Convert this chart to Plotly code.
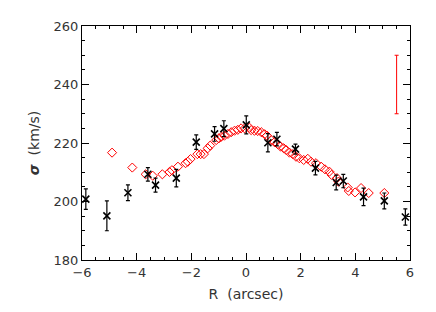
import plotly.graph_objects as go

# Black measurements (x, sigma, error)
black_r = [-5.86, -5.09, -4.32, -3.59, -3.31, -2.55, -1.82, -1.15, -0.81, 0.01,
           0.80, 1.13, 1.81, 2.54, 3.30, 3.56, 4.30, 5.06, 5.83]
black_sigma = [200.8, 195.1, 203.0, 209.3, 205.6, 208.0, 220.3, 223.1, 224.9, 226.2,
               220.1, 221.3, 217.9, 211.4, 206.5, 207.0, 201.6, 200.2, 194.7]
black_err = [3.5, 5.1, 2.7, 2.3, 2.4, 3.0, 2.5, 2.5, 2.7, 3.1,
             3.1, 2.3, 1.7, 2.3, 2.5, 2.3, 3.0, 2.7, 2.8]

# Red measurements
red_r = [-4.90, -4.16, -3.67, -3.41, -3.06, -2.80, -2.71, -2.49, -2.21, -2.13,
         -2.03, -1.78, -1.66, -1.54, -1.40, -1.31, -1.09, -0.99, -0.91, -0.79,
         -0.66, -0.54, -0.42, -0.30, -0.18, -0.05, 0.13, 0.19, 0.31, 0.43,
         0.56, 0.68, 0.77, 0.92, 1.04, 1.16, 1.26, 1.38, 1.47, 1.59,
         1.71, 1.83, 1.95, 2.11, 2.26, 2.38, 2.56, 2.75, 2.89, 3.05,
         3.13, 3.33, 3.38, 3.72, 3.76, 3.99, 4.21, 4.49, 5.06]
red_sigma = [216.7, 211.6, 209.3, 208.8, 209.3, 210.1, 210.7, 211.9, 213.1, 213.6,
             214.5, 216.2, 216.2, 216.2, 218.2, 219.1, 221.0, 221.6, 222.1, 222.5,
             223.1, 223.7, 224.2, 224.5, 225.0, 225.0, 225.2, 224.4, 224.2, 224.1,
             223.7, 223.0, 222.5, 221.0, 220.3, 219.6, 218.8, 218.2, 217.6, 216.7,
             216.2, 215.3, 214.8, 214.2, 214.6, 213.6, 213.1, 211.9, 211.0, 210.2,
             209.1, 208.0, 206.8, 204.8, 203.6, 203.1, 204.6, 202.9, 202.9]

# Representative red error bar
rep_r = [5.51]
rep_sigma = [240.0]
rep_err = [10.0]

x_ticks = [-6, -4, -2, 0, 2, 4, 6]
y_ticks = [180, 200, 220, 240, 260]

fig = go.Figure()

fig.add_trace(go.Scatter(
    x=red_r, y=red_sigma, mode="markers",
    marker=dict(symbol="diamond-open", size=7, color="red", line=dict(width=1, color="red")),
    showlegend=False))

fig.add_trace(go.Scatter(
    x=black_r, y=black_sigma, mode="markers",
    marker=dict(symbol="x-thin-open", size=7, color="black", line=dict(width=1.6, color="black")),
    error_y=dict(type="data", array=black_err, visible=True, color="black", thickness=1.2, width=2),
    showlegend=False))

fig.add_trace(go.Scatter(
    x=rep_r, y=rep_sigma, mode="markers",
    marker=dict(size=1, color="rgba(0,0,0,0)"),
    error_y=dict(type="data", array=rep_err, visible=True, color="red", thickness=1, width=2),
    showlegend=False))

axis_font = dict(family="DejaVu Sans", size=13, color="#333")
title_font = dict(family="DejaVu Sans", size=14, color="#333")

# The page body has an 8px default margin, so the figure is sized to fit inside it.
fig.update_layout(
    width=428, height=296,
    margin=dict(l=74, r=26, t=18, b=44, autoexpand=False),
    paper_bgcolor="white", plot_bgcolor="white",
    font=axis_font,
    xaxis=dict(
        range=[-6, 6], tickvals=x_ticks, ticktext=[str(v).replace("-", "\u2212") for v in x_ticks],
        showgrid=False, zeroline=False, showline=True, linecolor="black", linewidth=1,
        mirror="ticks", ticks="inside", ticklen=7, tickcolor="black", automargin=False,
        minor=dict(dtick=0.5, ticks="inside", ticklen=3, tickcolor="black", showgrid=False),
        title=dict(text="R  (arcsec)", standoff=10, font=title_font),
        tickfont=axis_font),
    yaxis=dict(
        range=[180, 260], tickvals=y_ticks,
        showgrid=False, zeroline=False, showline=True, linecolor="black", linewidth=1,
        mirror="ticks", ticks="inside", ticklen=7, tickcolor="black", automargin=False,
        minor=dict(dtick=5, ticks="inside", ticklen=3, tickcolor="black", showgrid=False),
        title=dict(text="<b><i>\u03c3</i></b>  (km/s)", standoff=10, font=title_font),
        tickfont=axis_font),
)

fig.write_html("out.html")
